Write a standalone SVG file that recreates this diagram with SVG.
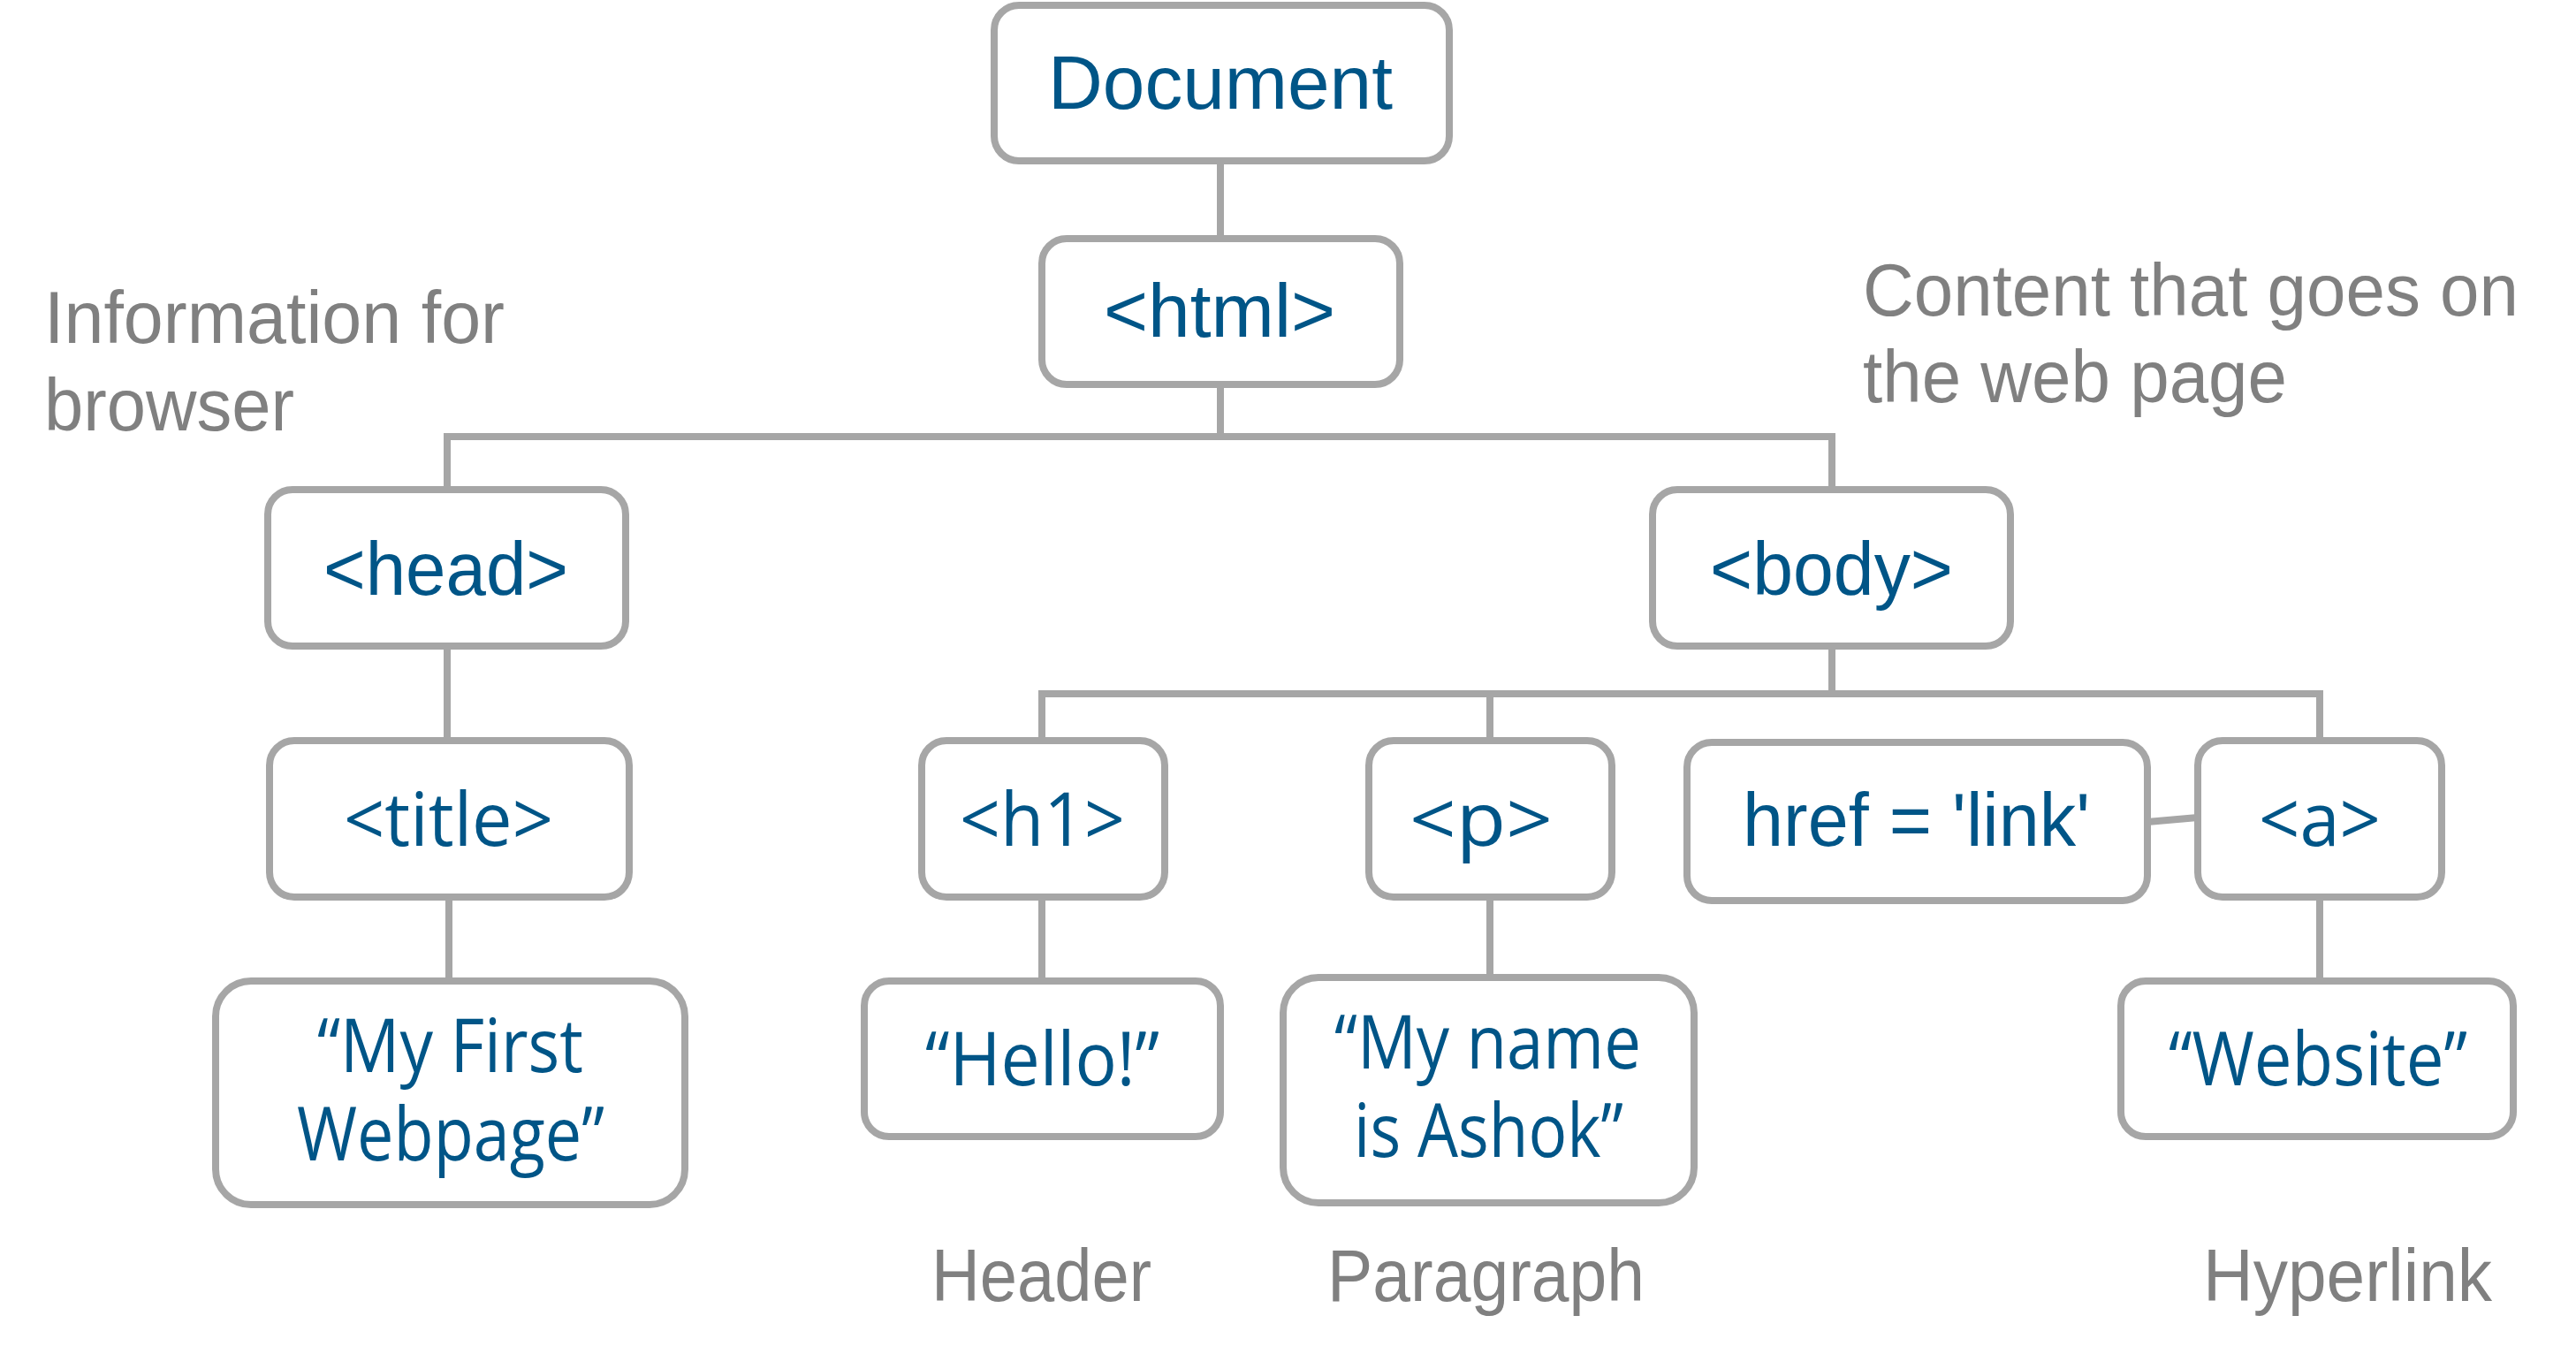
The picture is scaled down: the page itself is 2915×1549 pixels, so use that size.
<svg xmlns="http://www.w3.org/2000/svg" width="2915" height="1549" viewBox="0 0 2915 1549">
<style>
.box{fill:#fff;stroke:#A6A6A6;stroke-width:8}
.con{fill:none;stroke:#A6A6A6;stroke-width:8}
.t{fill:#005587;font-family:"Liberation Sans",Arial,sans-serif;font-size:86px}
.c{fill:#005587;font-family:"Open Sans","Noto Sans",sans-serif;font-size:84px}
.g{fill:#808080;font-family:"Liberation Sans",Arial,sans-serif;font-size:83px}
</style>
<rect width="2915" height="1549" fill="#fff"/>
<g id="connectors">
<path class="con" d="M1381,182 V270"/>
<path class="con" d="M1381,435 V494 M506,554 V494 H2073 V554"/>
<path class="con" d="M506,731 V838"/>
<path class="con" d="M508,1015 V1110"/>
<path class="con" d="M2073,731 V785 M1179,838 V785 H2625 V838 M1686,785 V838"/>
<path class="con" d="M1179,1015 V1110"/>
<path class="con" d="M1686,1015 V1106"/>
<path class="con" d="M2625,1015 V1110"/>
<path class="con" d="M2430,930 L2487,925"/>
</g>
<g id="document"><rect class="box" x="1125" y="6" width="515" height="176" rx="28"/><text class="t" x="1186" y="123" textLength="390" lengthAdjust="spacingAndGlyphs">Document</text></g>
<g id="html"><rect class="box" x="1179" y="270" width="405" height="165" rx="28"/><text class="t" x="1249" y="381" textLength="262" lengthAdjust="spacingAndGlyphs">&lt;html&gt;</text></g>
<g id="head"><rect class="box" x="303" y="554" width="405" height="177" rx="28"/><text class="t" x="366" y="673" textLength="277" lengthAdjust="spacingAndGlyphs">&lt;head&gt;</text></g>
<g id="body"><rect class="box" x="1870" y="554" width="405" height="177" rx="28"/><text class="t" x="1935" y="673" textLength="275" lengthAdjust="spacingAndGlyphs">&lt;body&gt;</text></g>
<g id="title"><rect class="box" x="305" y="838" width="407" height="177" rx="28"/><text class="c" x="389" y="957" textLength="237" lengthAdjust="spacingAndGlyphs">&lt;title&gt;</text></g>
<g id="h1"><rect class="box" x="1043" y="838" width="275" height="177" rx="28"/><text class="c" x="1086" y="957" textLength="187" lengthAdjust="spacingAndGlyphs">&lt;h1&gt;</text></g>
<g id="p"><rect class="box" x="1549" y="838" width="275" height="177" rx="28"/><text class="c" x="1595" y="957" textLength="162" lengthAdjust="spacingAndGlyphs">&lt;p&gt;</text></g>
<g id="href"><rect class="box" x="1909" y="840" width="521" height="179" rx="28"/><text class="t" x="1972" y="957" textLength="393" lengthAdjust="spacingAndGlyphs">href = 'link'</text></g>
<g id="a"><rect class="box" x="2487" y="838" width="276" height="177" rx="28"/><text class="c" x="2556" y="957" textLength="138" lengthAdjust="spacingAndGlyphs">&lt;a&gt;</text></g>
<g id="myfirst"><rect class="box" x="244" y="1110" width="531" height="253" rx="40"/><text class="c" x="359" y="1213" textLength="301" lengthAdjust="spacingAndGlyphs">“My First</text><text class="c" x="336" y="1313" textLength="348" lengthAdjust="spacingAndGlyphs">Webpage”</text></g>
<g id="hello"><rect class="box" x="978" y="1110" width="403" height="176" rx="28"/><text class="c" x="1047" y="1228" textLength="265" lengthAdjust="spacingAndGlyphs">“Hello!”</text></g>
<g id="myname"><rect class="box" x="1452" y="1106" width="465" height="255" rx="40"/><text class="c" x="1510" y="1209" textLength="347" lengthAdjust="spacingAndGlyphs">“My name</text><text class="c" x="1532" y="1309" textLength="305" lengthAdjust="spacingAndGlyphs">is Ashok”</text></g>
<g id="website"><rect class="box" x="2400" y="1110" width="444" height="176" rx="28"/><text class="c" x="2454" y="1228" textLength="338" lengthAdjust="spacingAndGlyphs">“Website”</text></g>
<g id="labels">
<text class="g" x="50" y="388" textLength="521" lengthAdjust="spacingAndGlyphs">Information for</text>
<text class="g" x="50" y="487" textLength="283" lengthAdjust="spacingAndGlyphs">browser</text>
<text class="g" x="2108" y="357" textLength="742" lengthAdjust="spacingAndGlyphs">Content that goes on</text>
<text class="g" x="2108" y="455" textLength="480" lengthAdjust="spacingAndGlyphs">the web page</text>
<text class="g" x="1054" y="1472" textLength="249" lengthAdjust="spacingAndGlyphs">Header</text>
<text class="g" x="1502" y="1472" textLength="359" lengthAdjust="spacingAndGlyphs">Paragraph</text>
<text class="g" x="2493" y="1472" textLength="327" lengthAdjust="spacingAndGlyphs">Hyperlink</text>
</g>
</svg>
